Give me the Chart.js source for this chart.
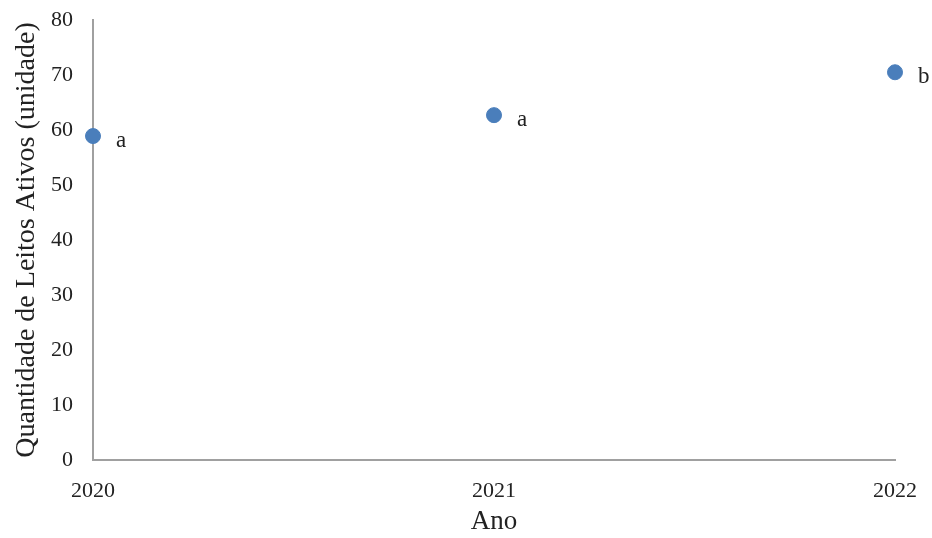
<!DOCTYPE html>
<html>
<head>
<meta charset="utf-8">
<script src="https://cdn.jsdelivr.net/npm/chart.js@4/dist/chart.umd.min.js"></script>
<style>
  html, body { margin: 0; padding: 0; background: #fff; }
  #wrap { width: 932px; height: 538px; }
</style>
</head>
<body>
<div id="wrap"><canvas id="grafico" width="932" height="538"></canvas></div>
<script>
// Leitos ativos por ano, com letras de significância
const anos = [2020, 2021, 2022];
const leitos = [58.9, 62.7, 70.5];
const letras = ['a', 'a', 'b'];

const FONTE = "'Liberation Serif', 'Times New Roman', serif";
const COR_EIXO = '#a0a0a0';

// escreve a letra à direita de cada ponto
const letrasPlugin = {
    id: 'letras',
    afterDatasetsDraw(chart) {
        const ctx = chart.ctx;
        const meta = chart.getDatasetMeta(0);
        ctx.save();
        ctx.font = '23px ' + FONTE;
        ctx.fillStyle = '#222';
        ctx.textAlign = 'left';
        ctx.textBaseline = 'alphabetic';
        meta.data.forEach((pt, i) => {
            ctx.fillText(letras[i], pt.x + 23, pt.y + 11);
        });
        ctx.restore();
    }
};

new Chart(document.getElementById('grafico'), {
    type: 'scatter',
    data: {
        datasets: [{
            data: anos.map((a, i) => ({ x: a, y: leitos[i] })),
            backgroundColor: '#4a7ebb',
            borderColor: '#4a7ebb',
            pointRadius: 7.5,
            pointHoverRadius: 7.5,
            clip: false
        }]
    },
    options: {
        responsive: false,
        animation: false,
        layout: { padding: { top: 20, right: 37, left: 0, bottom: 0 } },
        plugins: { legend: { display: false }, tooltip: { enabled: false } },
        scales: {
            x: {
                type: 'linear',
                min: 2020,
                max: 2022,
                grid: { display: false },
                border: { color: COR_EIXO, width: 2 },
                ticks: {
                    stepSize: 1,
                    padding: 10,
                    color: '#222',
                    font: { family: FONTE, size: 22 },
                    callback: v => String(v)
                },
                title: {
                    display: true,
                    text: 'Ano',
                    color: '#222',
                    font: { family: FONTE, size: 27 },
                    padding: { top: 0, bottom: 0 }
                },
                afterFit: s => { s.height = 78; }
            },
            y: {
                min: 0,
                max: 80,
                grid: { display: false },
                border: { color: COR_EIXO, width: 2 },
                ticks: {
                    stepSize: 10,
                    padding: 12,
                    color: '#222',
                    font: { family: FONTE, size: 22 }
                },
                title: {
                    display: true,
                    text: 'Quantidade de Leitos Ativos (unidade)',
                    color: '#222',
                    font: { family: FONTE, size: 28 },
                    padding: { top: 10, bottom: 0 }
                },
                afterFit: s => {
                    s.width = 93;
                    s.paddingTop = 0;
                    s.paddingBottom = 0;
                }
            }
        }
    },
    plugins: [letrasPlugin]
});
</script>
</body>
</html>
